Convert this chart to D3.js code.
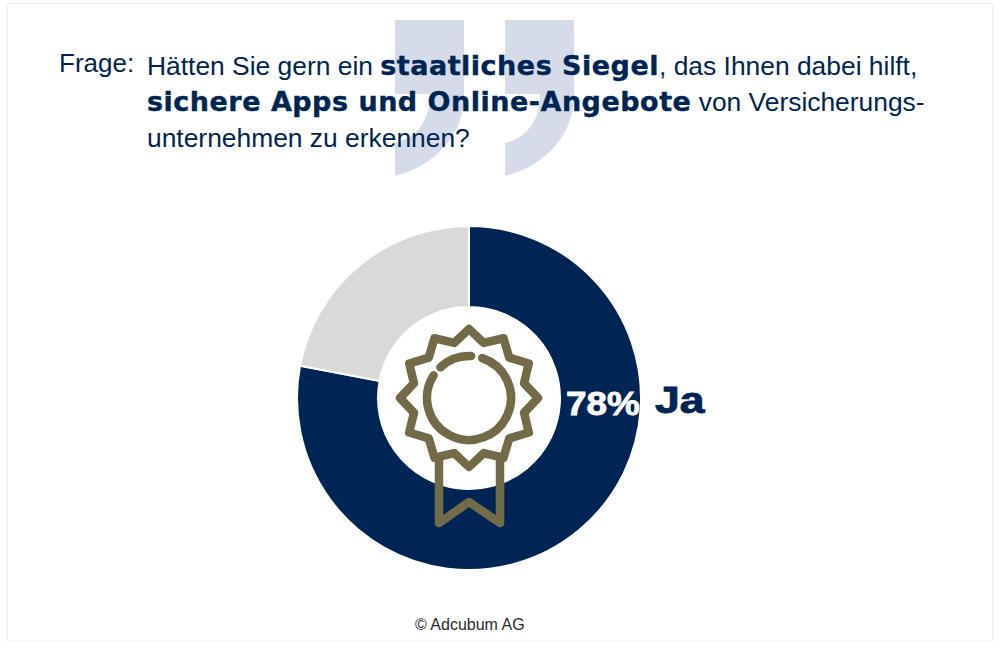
<!DOCTYPE html>
<html>
<head>
<meta charset="utf-8">
<script src="https://cdn.jsdelivr.net/npm/d3@7"></script>
<style>
  html, body { margin: 0; padding: 0; background: #fff; }
  text { font-family: "Liberation Sans", Arial, sans-serif; }
  tspan.heavy { font-family: "DejaVu Sans", sans-serif; font-weight: bold; letter-spacing: 0.5px; }
  svg { display: block; }
</style>
</head>
<body>
<div id="chart"></div>
<script>
// Values
var answers = ['Ja', 'Nein'];
var shares = [78, 22];
var sliceColors = ['#002555', '#d9d9d9'];

var questionLabel = 'Frage:';
// every line is a list of runs, heavy runs are the highlighted words
var questionLines = [
  [['Hätten Sie gern ein ', false], ['staatliches Siegel', true], [', das Ihnen dabei hilft,', false]],
  [['sichere Apps und Online-Angebote', true], [' von Versicherungs-', false]],
  [['unternehmen zu erkennen?', false]]
];
var copyright = '© Adcubum AG';

var width = 1000, height = 648;
var navy = '#002555', gold = '#736b47', quoteColor = '#d5dbe8';
var cx = 469, cy = 398, outerR = 172, innerR = 91;

var svg = d3.select('#chart').append('svg')
  .attr('width', width)
  .attr('height', height);

// thin frame around the slide
svg.append('rect')
  .attr('x', 7.5).attr('y', 3.5)
  .attr('width', 985).attr('height', 637.5)
  .attr('fill', '#fff')
  .attr('stroke', '#efefef');

// big closing quote behind the question
var quote = 'M0,0H69V75C69,115 40,146 0,156V123C22,118 35,100 35,74H0Z';
[395, 505].forEach(function(x) {
  svg.append('path')
    .attr('d', quote)
    .attr('transform', 'translate(' + x + ',20)')
    .attr('fill', quoteColor);
});

// question text
svg.append('text')
  .attr('x', 59).attr('y', 72)
  .attr('font-size', 26)
  .attr('fill', navy)
  .text(questionLabel);

var lineText = svg.selectAll('text.line')
  .data(questionLines)
  .enter()
  .append('text')
  .attr('class', 'line')
  .attr('x', 147)
  .attr('y', function(d, i) { return 75 + i * 36; })
  .attr('fill', navy)
  .attr('font-size', 26.4);

lineText.selectAll('tspan')
  .data(function(d) { return d; })
  .enter()
  .append('tspan')
  .attr('class', function(d) { return d[1] ? 'heavy' : null; })
  .attr('font-size', function(d) { return d[1] ? 27 : 26.4; })
  .attr('stroke', function(d) { return d[1] ? navy : 'none'; })
  .attr('stroke-width', function(d) { return d[1] ? 0.4 : 0; })
  .text(function(d) { return d[0]; });

// donut
var pie = d3.pie().sort(null);
var arc = d3.arc().innerRadius(innerR).outerRadius(outerR);

var donut = svg.append('g')
  .attr('transform', 'translate(' + cx + ',' + cy + ')');

donut.selectAll('path')
  .data(pie(shares))
  .enter()
  .append('path')
  .attr('d', arc)
  .attr('fill', function(d, i) { return sliceColors[i]; })
  .attr('stroke', '#fff')
  .attr('stroke-width', 2);

// rosette icon
var icon = svg.append('g')
  .attr('transform', 'translate(' + cx + ',' + cy + ')')
  .attr('fill', 'none')
  .attr('stroke', gold)
  .attr('stroke-width', 8.5)
  .attr('stroke-linejoin', 'round')
  .attr('stroke-linecap', 'round');

var starPts = d3.range(24).map(function(i) {
  var r = i % 2 ? 57 : 69;
  return [i * Math.PI / 12, r];
});
icon.append('path')
  .attr('d', d3.lineRadial().curve(d3.curveLinearClosed)(starPts));

var ring = d3.arc().innerRadius(42).outerRadius(42);
icon.append('path').attr('d', ring({ startAngle: 0.32, endAngle: 2 * Math.PI - 1.0 }));
icon.append('path').attr('d', ring({ startAngle: -0.75, endAngle: 0.05 }));

icon.append('path').attr('d', 'M-30,60V125L0,104L31,125V60');

// labels, stretched to get the wide heavy look of the original face
svg.append('text')
  .attr('transform', 'translate(566,415) scale(1.1,1)')
  .attr('font-size', 33.5)
  .attr('font-weight', 'bold')
  .attr('fill', '#fff')
  .attr('stroke', '#fff')
  .attr('stroke-width', 0.8)
  .text(shares[0] + '%');

svg.append('text')
  .attr('transform', 'translate(655,413) scale(1.22,1)')
  .attr('font-size', 36.5)
  .attr('font-weight', 'bold')
  .attr('fill', navy)
  .attr('stroke', navy)
  .attr('stroke-width', 0.9)
  .text(answers[0]);

svg.append('text')
  .attr('x', 415).attr('y', 630)
  .attr('font-size', 16)
  .attr('fill', '#2a2a2a')
  .text(copyright);
</script>
</body>
</html>
